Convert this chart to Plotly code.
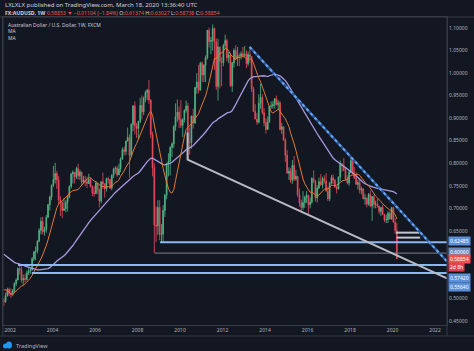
import pandas as pd
import plotly.graph_objects as go

# ---------------- data (monthly approximation of the weekly chart) ----------------
# closes before the visible window, used only to warm up the moving averages (1997-11 .. 2001-08)
hist_close = [0.665, 0.652,
              0.665, 0.675, 0.660, 0.645, 0.625, 0.620, 0.615, 0.580, 0.595, 0.625, 0.640, 0.613,
              0.630, 0.630, 0.635, 0.660, 0.655, 0.665, 0.655, 0.640, 0.655, 0.640, 0.635, 0.655,
              0.630, 0.610, 0.605, 0.590, 0.575, 0.600, 0.580, 0.575, 0.545, 0.520, 0.520, 0.560,
              0.555, 0.530, 0.490, 0.510, 0.510, 0.510, 0.505, 0.530]

first_open = 0.4960  # open of 2001-09

close = [
    0.4930, 0.5060, 0.5200, 0.5110,
    0.5090, 0.5170, 0.5330, 0.5410, 0.5660, 0.5630, 0.5410, 0.5440, 0.5420, 0.5570, 0.5610, 0.5630,
    0.5880, 0.6030, 0.6050, 0.6270, 0.6510, 0.6710, 0.6480, 0.6530, 0.6800, 0.7080, 0.7250, 0.7510,
    0.7640, 0.7770, 0.7630, 0.7180, 0.7130, 0.6950, 0.6990, 0.7130, 0.7250, 0.7480, 0.7760, 0.7800,
    0.7700, 0.7880, 0.7720, 0.7800, 0.7580, 0.7620, 0.7590, 0.7550, 0.7640, 0.7480, 0.7340, 0.7330,
    0.7560, 0.7410, 0.7160, 0.7590, 0.7540, 0.7430, 0.7660, 0.7640, 0.7450, 0.7730, 0.7870, 0.7890,
    0.7740, 0.7870, 0.8090, 0.8300, 0.8260, 0.8490, 0.8570, 0.8170, 0.8860, 0.9270, 0.8830, 0.8770,
    0.8930, 0.9280, 0.9140, 0.9440, 0.9570, 0.9620, 0.9400, 0.8640, 0.7900, 0.6630, 0.6610, 0.7020,
    0.6420, 0.6430, 0.6950, 0.7290, 0.8000, 0.8050, 0.8350, 0.8430, 0.8810, 0.9030, 0.9130, 0.8970,
    0.8840, 0.8960, 0.9170, 0.9270, 0.8460, 0.8460, 0.9050, 0.8890, 0.9680, 0.9800, 0.9620, 1.0220,
    0.9960, 1.0170, 1.0340, 1.0950, 1.0700, 1.0720, 1.0990, 1.0690, 0.9700, 1.0580, 1.0260, 1.0230,
    1.0610, 1.0720, 1.0340, 1.0400, 0.9720, 1.0230, 1.0500, 1.0330, 1.0390, 1.0380, 1.0430, 1.0390,
    1.0420, 1.0210, 1.0410, 1.0360, 0.9650, 0.9150, 0.8980, 0.8910, 0.9330, 0.9460, 0.9120, 0.8900,
    0.8750, 0.8920, 0.9260, 0.9270, 0.9300, 0.9430, 0.9300, 0.9340, 0.8750, 0.8810, 0.8510, 0.8180,
    0.7780, 0.7820, 0.7620, 0.7950, 0.7650, 0.7710, 0.7300, 0.7120, 0.7020, 0.7130, 0.7240, 0.7290,
    0.7080, 0.7140, 0.7660, 0.7600, 0.7230, 0.7450, 0.7590, 0.7520, 0.7660, 0.7610, 0.7380, 0.7210,
    0.7560, 0.7680, 0.7630, 0.7480, 0.7430, 0.7690, 0.7990, 0.7950, 0.7840, 0.7650, 0.7560, 0.7800,
    0.8060, 0.7760, 0.7670, 0.7530, 0.7570, 0.7400, 0.7430, 0.7210, 0.7230, 0.7090, 0.7310, 0.7050,
    0.7260, 0.7090, 0.7100, 0.7050, 0.6930, 0.7020, 0.6860, 0.6740, 0.6750, 0.6890, 0.6760, 0.7020,
    0.6690, 0.6510, 0.5885,
]

high = [
    0.5010, 0.5130, 0.5240, 0.5240,
    0.5220, 0.5210, 0.5360, 0.5450, 0.5690, 0.5740, 0.5710, 0.5530, 0.5540, 0.5620, 0.5700, 0.5690,
    0.5920, 0.6050, 0.6150, 0.6290, 0.6560, 0.6800, 0.6810, 0.6590, 0.6850, 0.7100, 0.7280, 0.7530,
    0.7940, 0.8008, 0.7830, 0.7720, 0.7270, 0.7120, 0.7230, 0.7180, 0.7270, 0.7510, 0.7790, 0.7840,
    0.7800, 0.7920, 0.7990, 0.7860, 0.7820, 0.7720, 0.7720, 0.7700, 0.7770, 0.7680, 0.7510, 0.7500,
    0.7600, 0.7530, 0.7440, 0.7600, 0.7790, 0.7560, 0.7680, 0.7700, 0.7650, 0.7760, 0.7900, 0.7930,
    0.7940, 0.7990, 0.8130, 0.8350, 0.8370, 0.8500, 0.8790, 0.8640, 0.8890, 0.9290, 0.9370, 0.8890,
    0.8940, 0.9450, 0.9500, 0.9480, 0.9610, 0.9650, 0.9850, 0.9420, 0.8700, 0.8000, 0.7040, 0.7180,
    0.7180, 0.6650, 0.7070, 0.7320, 0.7970, 0.8220, 0.8380, 0.8470, 0.8850, 0.9330, 0.9410, 0.9260,
    0.9400, 0.9000, 0.9200, 0.9390, 0.9340, 0.8790, 0.9050, 0.9210, 0.9690, 1.0000, 1.0180, 1.0250,
    1.0260, 1.0200, 1.0390, 1.0950, 1.1010, 1.0800, 1.1080, 1.1010, 1.0770, 1.0760, 1.0570, 1.0360,
    1.0650, 1.0850, 1.0760, 1.0470, 1.0450, 1.0250, 1.0550, 1.0620, 1.0580, 1.0440, 1.0480, 1.0580,
    1.0600, 1.0500, 1.0480, 1.0580, 1.0380, 0.9700, 0.9310, 0.9110, 0.9530, 0.9760, 0.9530, 0.9220,
    0.9000, 0.9040, 0.9270, 0.9370, 0.9380, 0.9450, 0.9500, 0.9400, 0.9380, 0.8900, 0.8810, 0.8560,
    0.8290, 0.7910, 0.7890, 0.8070, 0.8160, 0.7850, 0.7720, 0.7440, 0.7190, 0.7380, 0.7280, 0.7380,
    0.7300, 0.7240, 0.7690, 0.7840, 0.7630, 0.7510, 0.7680, 0.7760, 0.7700, 0.7730, 0.7780, 0.7480,
    0.7590, 0.7740, 0.7750, 0.7650, 0.7470, 0.7710, 0.8060, 0.8000, 0.8120, 0.7900, 0.7730, 0.7830,
    0.8130, 0.8120, 0.7920, 0.7810, 0.7630, 0.7670, 0.7480, 0.7450, 0.7320, 0.7230, 0.7340, 0.7390,
    0.7260, 0.7290, 0.7170, 0.7210, 0.7060, 0.7030, 0.7080, 0.6880, 0.6860, 0.6930, 0.6930, 0.7030,
    0.7030, 0.6780, 0.6680,
]

low = [
    0.4830, 0.4900, 0.5040, 0.5050,
    0.5010, 0.5050, 0.5130, 0.5280, 0.5400, 0.5530, 0.5350, 0.5300, 0.5360, 0.5400, 0.5520, 0.5540,
    0.5620, 0.5830, 0.5850, 0.6000, 0.6250, 0.6420, 0.6420, 0.6390, 0.6460, 0.6790, 0.6950, 0.7180,
    0.7470, 0.7550, 0.7430, 0.7090, 0.6830, 0.6780, 0.6950, 0.6910, 0.6930, 0.7220, 0.7440, 0.7550,
    0.7550, 0.7650, 0.7640, 0.7630, 0.7520, 0.7540, 0.7490, 0.7450, 0.7540, 0.7460, 0.7270, 0.7260,
    0.7310, 0.7320, 0.7020, 0.7110, 0.7430, 0.7240, 0.7370, 0.7550, 0.7420, 0.7400, 0.7670, 0.7770,
    0.7700, 0.7740, 0.7800, 0.8080, 0.8170, 0.8180, 0.8500, 0.7680, 0.8130, 0.8710, 0.8640, 0.8560,
    0.8530, 0.8890, 0.8970, 0.9070, 0.9350, 0.9400, 0.9320, 0.8560, 0.7710, 0.6008, 0.6250, 0.6410,
    0.6290, 0.6250, 0.6250, 0.6810, 0.7200, 0.7710, 0.7730, 0.8140, 0.8340, 0.8720, 0.8920, 0.8780,
    0.8780, 0.8580, 0.8900, 0.9120, 0.8070, 0.8190, 0.8320, 0.8770, 0.8880, 0.9540, 0.9550, 0.9650,
    0.9800, 0.9800, 0.9800, 1.0300, 1.0570, 1.0420, 1.0500, 1.0070, 0.9630, 0.9390, 0.9660, 0.9710,
    1.0150, 1.0530, 1.0260, 1.0220, 0.9690, 0.9580, 1.0120, 1.0290, 1.0160, 1.0150, 1.0300, 1.0370,
    1.0360, 1.0110, 1.0160, 1.0230, 0.9580, 0.9150, 0.8990, 0.8850, 0.8880, 0.9210, 0.9080, 0.8820,
    0.8660, 0.8840, 0.8890, 0.9210, 0.9210, 0.9210, 0.9280, 0.9200, 0.8730, 0.8650, 0.8500, 0.8030,
    0.7770, 0.7630, 0.7560, 0.7540, 0.7600, 0.7610, 0.7250, 0.7040, 0.6910, 0.6960, 0.7010, 0.7120,
    0.6830, 0.7000, 0.7100, 0.7560, 0.7150, 0.7130, 0.7430, 0.7500, 0.7440, 0.7550, 0.7380, 0.7160,
    0.7160, 0.7530, 0.7540, 0.7450, 0.7330, 0.7420, 0.7600, 0.7810, 0.7830, 0.7620, 0.7530, 0.7500,
    0.7780, 0.7760, 0.7650, 0.7530, 0.7420, 0.7330, 0.7310, 0.7200, 0.7080, 0.7020, 0.7060, 0.7020,
    0.6720, 0.7000, 0.7000, 0.7010, 0.6870, 0.6830, 0.6850, 0.6690, 0.6670, 0.6670, 0.6750, 0.6750,
    0.6690, 0.6430, 0.5874,
]

# drawings on the chart
dash_x = ["2013-04-10", "2022-07-25"]
dash_y = [1.058, 0.582]
gray_x = ["2010-05-10", "2010-05-10", "2022-07-25"]
gray_y = [0.868, 0.808, 0.5447]
levels = [0.62485, 0.60060, 0.57420, 0.55640]
level_start = ["2009-01-22", "2008-10-20", "2002-05-17", "2003-01-10"]
level_color = ["#8ab8f0", "#7d828f", "#8ab8f0", "#8ab8f0"]
level_width = [2, 1, 2, 2]
short_levels = [0.646, 0.635]
short_start = ["2020-03-01", "2020-03-10"]
short_end = ["2021-04-01", "2021-04-20"]
last_price = "0.58854"
countdown = "2d 8h"

x_start, x_end = "2001-09-01", "2022-07-25"
y_lo, y_hi = 0.4411, 1.1244
ytick_vals = [0.45, 0.50, 0.65, 0.70, 0.75, 0.80, 0.85, 0.90, 0.95, 1.00, 1.05, 1.10]
xtick_years = list(range(2002, 2023, 2))

# ---------------- figure ----------------
n = len(close)
assert len(high) == n and len(low) == n
months = pd.date_range("2001-09-01", periods=n, freq="MS") + pd.Timedelta(days=14)
opens = [first_open] + close[:-1]

all_close = pd.Series(hist_close + close)
ma_slow = all_close.rolling(46).mean().iloc[len(hist_close):].values
ma_fast = all_close.rolling(12).mean().iloc[len(hist_close):].values

BG = "#131722"
TXT = "#b2b5be"
FONT = "Noto Sans"


def pxx(px):
    return (px - 3) / 444.0


def pxy(py):
    return (325 - py) / 308.0


fig = go.Figure()

fig.add_trace(go.Scatter(x=months, y=ma_slow, mode="lines",
                         line=dict(color="#a898e0", width=1.3), hoverinfo="skip"))
fig.add_trace(go.Scatter(x=months, y=ma_fast, mode="lines",
                         line=dict(color="#e07a35", width=1), hoverinfo="skip"))

fig.add_trace(go.Candlestick(
    x=months, open=opens, high=high, low=low, close=close,
    increasing=dict(line=dict(color="#53b987", width=0.8), fillcolor="#53b987"),
    decreasing=dict(line=dict(color="#eb4d5c", width=0.8), fillcolor="#eb4d5c"),
    whiskerwidth=0,
))

# horizontal levels
for lv, st, col, w in zip(levels, level_start, level_color, level_width):
    fig.add_trace(go.Scatter(x=[st, x_end], y=[lv, lv], mode="lines",
                             line=dict(color=col, width=w), hoverinfo="skip"))
for lv, st, en in zip(short_levels, short_start, short_end):
    fig.add_trace(go.Scatter(x=[st, en], y=[lv, lv], mode="lines",
                             line=dict(color="#c3c6ce", width=2), hoverinfo="skip"))

# gray trendline
fig.add_trace(go.Scatter(x=gray_x, y=gray_y, mode="lines",
                         line=dict(color="#b8bbc4", width=2), hoverinfo="skip"))
# blue dashed trendline
fig.add_trace(go.Scatter(x=dash_x, y=dash_y, mode="lines",
                         line=dict(color="#2a5aa0", width=2.4), hoverinfo="skip"))
fig.add_trace(go.Scatter(x=dash_x, y=dash_y, mode="lines",
                         line=dict(color="#6aa8f2", width=2, dash="3px,3px"), hoverinfo="skip"))

ann = []
# header
ann.append(dict(x=pxx(3), y=pxy(5), xref="paper", yref="paper", xanchor="left", yanchor="middle",
                text="LXLXLX published on TradingView.com, March 18, 2020 13:36:40 UTC",
                showarrow=False, font=dict(family=FONT, size=6, color="#d1d4dc")))
red = "#ef5350"
hdr2 = ("<b>FX:AUDUSD, 1W</b> <span style='color:%s'>0.58853 ▼ −0.01104 (−1.84%%)</span> "
        "O:<span style='color:%s'>0.61374</span> H:<span style='color:%s'>0.63027</span> "
        "L:<span style='color:%s'>0.58738</span> C:<span style='color:%s'>0.58854</span>") % (red, red, red, red, red)
ann.append(dict(x=pxx(3), y=pxy(13), xref="paper", yref="paper", xanchor="left", yanchor="middle",
                text=hdr2, showarrow=False, font=dict(family=FONT, size=5.2, color="#d1d4dc")))
# legend text
for txt, py in [("Australian Dollar / U.S. Dollar, 1W, FXCM", 24.5), ("MA", 31), ("MA", 37.5)]:
    ann.append(dict(x=pxx(6), y=pxy(py), xref="paper", yref="paper", xanchor="left", yanchor="middle",
                    text=txt, showarrow=False, font=dict(family=FONT, size=5, color="#c8cbd3")))

# right axis boxes
boxes = [("%.5f" % levels[0], 241, "#5b8fd9"),
         ("%.5f" % levels[1], 251.5, "#6d8cbc"),
         (last_price, 258.8, "#ef5350"),
         (countdown, 267, "#e0424f"),
         ("%.5f" % levels[2], 278, "#5b8fd9"),
         ("%.5f" % levels[3], 286.5, "#5b8fd9")]
for txt, py, bg in boxes:
    ann.append(dict(x=pxx(448.5), y=pxy(py), xref="paper", yref="paper", xanchor="left", yanchor="middle",
                    text=txt, showarrow=False, bgcolor=bg, borderpad=1,
                    font=dict(family=FONT, size=5, color="#ffffff")))

# TradingView logo text
ann.append(dict(x=pxx(14), y=pxy(345.5), xref="paper", yref="paper", xanchor="left", yanchor="middle",
                text="TradingView", showarrow=False, font=dict(family=FONT, size=5.5, color="#b2b5be")))

shapes = []
LINE = "#363a45"
# frame lines
shapes.append(dict(type="line", xref="paper", yref="paper", x0=pxx(0), x1=pxx(474), y0=pxy(17), y1=pxy(17),
                   line=dict(color=LINE, width=1)))
shapes.append(dict(type="line", xref="paper", yref="paper", x0=pxx(0), x1=pxx(474), y0=pxy(336), y1=pxy(336),
                   line=dict(color=LINE, width=1)))
shapes.append(dict(type="line", xref="paper", yref="paper", x0=1, x1=1, y0=pxy(336), y1=pxy(17),
                   line=dict(color=LINE, width=1)))
shapes.append(dict(type="line", xref="paper", yref="paper", x0=0, x1=0, y0=pxy(336), y1=pxy(17),
                   line=dict(color=LINE, width=1)))
# logo cloud
shapes.append(dict(type="circle", xref="paper", yref="paper", x0=pxx(3), x1=pxx(8), y0=pxy(348.5), y1=pxy(343.5),
                   fillcolor="#2196f3", line=dict(width=0)))
shapes.append(dict(type="circle", xref="paper", yref="paper", x0=pxx(6), x1=pxx(12), y0=pxy(348.5), y1=pxy(341.5),
                   fillcolor="#2196f3", line=dict(width=0)))

fig.update_layout(
    width=474, height=351,
    margin=dict(l=3, r=27, t=17, b=26),
    paper_bgcolor=BG, plot_bgcolor=BG,
    showlegend=False,
    annotations=ann, shapes=shapes,
    font=dict(family=FONT, color=TXT),
    xaxis=dict(
        type="date", range=[x_start, x_end], rangeslider=dict(visible=False),
        tickvals=["%d-01-01" % y for y in xtick_years], ticktext=[str(y) for y in xtick_years],
        showgrid=False, zeroline=False, showline=True, linecolor=LINE, mirror=True,
        ticks="", tickfont=dict(family=FONT, size=5, color=TXT),
    ),
    yaxis=dict(
        side="right", range=[y_lo, y_hi], tickvals=ytick_vals,
        ticktext=["%.5f" % v for v in ytick_vals],
        showgrid=False, zeroline=False, showline=True, linecolor=LINE, mirror=True,
        ticks="", tickfont=dict(family=FONT, size=5, color=TXT),
    ),
)

fig.write_html("out.html")
